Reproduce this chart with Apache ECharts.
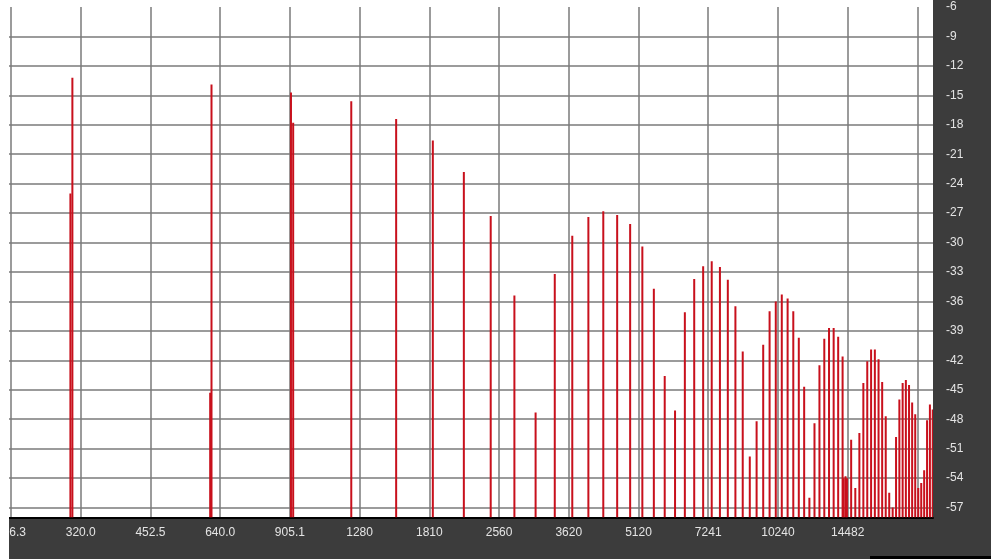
<!DOCTYPE html>
<html>
<head>
<meta charset="utf-8">
<script src="https://cdn.jsdelivr.net/npm/echarts@6/dist/echarts.min.js"></script>
<style>
  html, body { margin: 0; padding: 0; background: #fff; }
  #chart { width: 991px; height: 559px; }
</style>
</head>
<body>
<div id="chart"></div>
<script>
// spectrum lines: frequency (Hz) and peak level (dB)
const lineFreqs = [
  304, 307, 609, 613, 910, 920, 1228, 1535, 1842, 2149,
  2456, 2763, 3070, 3377, 3684, 3991, 4298, 4605, 4912, 5219,
  5526, 5833, 6140, 6447, 6754, 7061, 7368, 7675, 7982, 8289,
  8596, 8903, 9210, 9517, 9824, 10131, 10438, 10745, 11052, 11359,
  11666, 11973, 12280, 12587, 12894, 13201, 13508, 13815, 14122, 14200,
  14330, 14429, 14736, 15043, 15350, 15657, 15964, 16271, 16578, 16885,
  17192, 17499, 17806, 18113, 18420, 18727, 19034, 19341, 19648, 19955,
  20262, 20569, 20876, 21183, 21490, 21797, 22104
];
const lineLevels = [
  -25.0, -13.2, -45.3, -13.9, -14.7, -17.8, -15.6, -17.4, -19.6, -22.8,
  -27.3, -35.4, -47.3, -33.2, -29.3, -27.4, -26.8, -27.2, -28.1, -30.4,
  -34.7, -43.6, -47.1, -37.1, -33.7, -32.4, -31.9, -32.5, -33.8, -36.5,
  -41.1, -51.8, -48.2, -40.4, -37.0, -36.0, -35.3, -35.7, -37.0, -39.7,
  -44.7, -56.0, -48.4, -42.5, -39.8, -38.7, -38.7, -39.6, -41.6, -54.0,
  -53.8, -54.0, -50.1, -55.0, -49.4, -44.3, -42.1, -40.9, -40.9, -41.9,
  -44.2, -47.7, -55.5, -57.0, -49.8, -46.0, -44.3, -44.0, -44.5, -46.3,
  -47.5, -55.0, -54.5, -53.2, -48.1, -46.5, -47.0
];

// half-octave grid on the frequency axis
const xTickFreqs = [226.27, 320, 452.55, 640, 905.1, 1280, 1810.2, 2560, 3620.4, 5120, 7240.8, 10240, 14481.5, 20480];
const xTickLabels = ['226.3', '320.0', '452.5', '640.0', '905.1', '1280', '1810', '2560', '3620', '5120', '7241', '10240', '14482', ''];
const yTickValues = [-57, -54, -51, -48, -45, -42, -39, -36, -33, -30, -27, -24, -21, -18, -15, -12, -9];
const yLabelValues = [-57, -54, -51, -48, -45, -42, -39, -36, -33, -30, -27, -24, -21, -18, -15, -12, -9, -6];

const FLOOR = -58;

const chart = echarts.init(document.getElementById('chart'));

chart.setOption({
  animation: false,
  backgroundColor: '#3c3c3c',
  grid: {
    left: 9, right: 58, top: 7, bottom: 41.6,
    outerBoundsMode: 'none',
    containLabel: false,
    show: true,
    backgroundColor: '#fff',
    borderWidth: 0
  },
  xAxis: {
    type: 'log',
    logBase: 2,
    min: 224.03,
    max: 22134,
    axisLine: { show: true, onZero: false, lineStyle: { color: '#000', width: 2 } },
    axisTick: { show: false, customValues: xTickFreqs },
    splitLine: { show: true, lineStyle: { color: '#7a7a7a', width: 1.5 } },
    axisLabel: {
      customValues: xTickFreqs,
      color: '#e4e4e4',
      fontSize: 12,
      fontFamily: 'Liberation Sans',
      margin: 9,
      formatter: val => {
        const i = xTickFreqs.findIndex(f => Math.abs(f - val) < 1);
        return i >= 0 ? xTickLabels[i] : '';
      }
    }
  },
  yAxis: {
    type: 'value',
    position: 'right',
    min: FLOOR,
    max: -6,
    axisLine: { show: false },
    axisTick: { show: false, customValues: yTickValues },
    splitLine: { show: true, lineStyle: { color: '#7a7a7a', width: 1.5 } },
    axisLabel: {
      customValues: yLabelValues,
      color: '#e4e4e4',
      fontSize: 12,
      fontFamily: 'Liberation Sans',
      margin: 13
    }
  },
  series: [{
    type: 'custom',
    clip: true,
    data: lineFreqs.map((f, i) => [f, lineLevels[i]]),
    encode: { x: 0, y: 1 },
    renderItem: (params, api) => {
      const top = api.coord([api.value(0), api.value(1)]);
      const base = api.coord([api.value(0), FLOOR]);
      return {
        type: 'line',
        shape: { x1: top[0], y1: top[1], x2: base[0], y2: base[1] },
        style: { stroke: '#c8101c', lineWidth: 2 }
      };
    }
  }],
  graphic: [
    // white margins at the left and top of the capture
    { type: 'rect', z: 100, shape: { x: 0, y: 0, width: 9, height: 559 }, style: { fill: '#fff' } },
    { type: 'rect', z: 100, shape: { x: 0, y: 0, width: 933, height: 7 }, style: { fill: '#fff' } },
    { type: 'rect', z: 100, shape: { x: 870, y: 556, width: 121, height: 3 }, style: { fill: '#000' } }
  ]
});
</script>
</body>
</html>
